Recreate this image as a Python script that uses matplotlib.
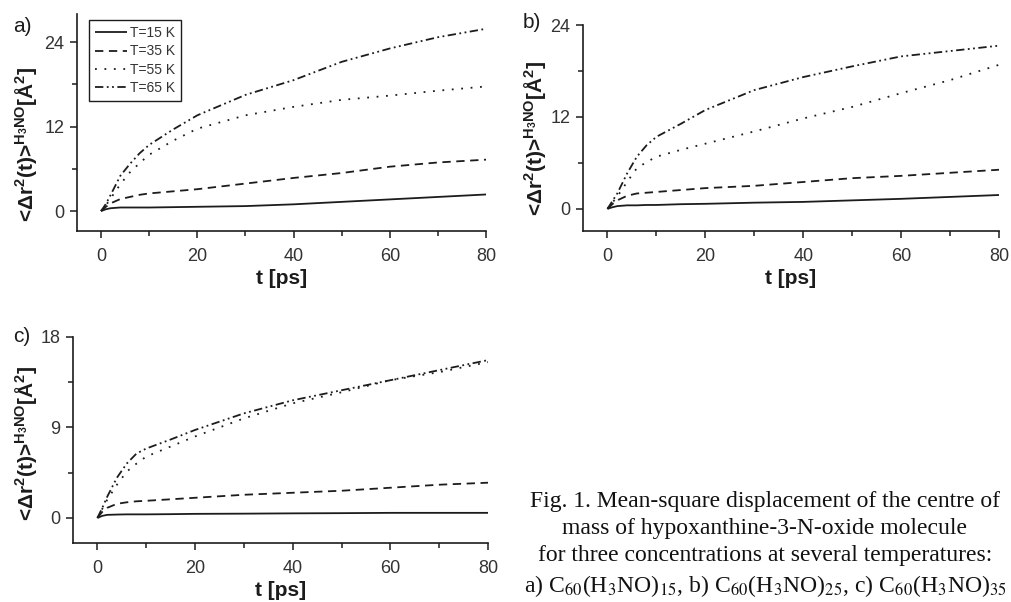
import numpy as np
import matplotlib
matplotlib.use("Agg")
import matplotlib.pyplot as plt

plt.rcParams['font.family'] = ['Liberation Sans', 'DejaVu Sans']
plt.rcParams['mathtext.fontset'] = 'custom'
plt.rcParams['mathtext.rm'] = 'Liberation Sans'
plt.rcParams['mathtext.it'] = 'Liberation Sans:italic'
plt.rcParams['mathtext.bf'] = 'Liberation Sans:bold'
plt.rcParams['lines.scale_dashes'] = False

# time grid [ps]
t = [0, 1, 2, 4, 6, 8, 10, 15, 20, 30, 40, 50, 60, 70, 80]
temps = ['T=15 K', 'T=35 K', 'T=55 K', 'T=65 K']

# a) C60(H3NO)15
a_15 = [0, 0.25, 0.4, 0.5, 0.5, 0.5, 0.5, 0.55, 0.6, 0.7, 0.95, 1.3, 1.65, 2.0, 2.35]
a_35 = [0, 0.6, 1.1, 1.7, 2.0, 2.3, 2.5, 2.8, 3.1, 3.9, 4.7, 5.4, 6.3, 6.9, 7.3]
a_55 = [0, 0.8, 1.8, 3.8, 5.5, 6.8, 8.0, 10.0, 11.7, 13.6, 14.8, 15.8, 16.4, 17.1, 17.7]
a_65 = [0, 1.0, 2.3, 5.0, 6.7, 8.2, 9.4, 11.6, 13.6, 16.5, 18.6, 21.2, 23.1, 24.7, 25.9]

# b) C60(H3NO)25
b_15 = [0, 0.2, 0.35, 0.45, 0.45, 0.5, 0.5, 0.6, 0.65, 0.8, 0.9, 1.1, 1.3, 1.55, 1.8]
b_35 = [0, 0.6, 1.1, 1.7, 2.0, 2.1, 2.2, 2.45, 2.7, 3.0, 3.5, 4.0, 4.3, 4.7, 5.1]
b_55 = [0, 0.8, 1.6, 3.5, 5.3, 6.1, 6.8, 7.7, 8.5, 10.1, 11.8, 13.3, 15.1, 16.8, 18.8]
b_65 = [0, 1.0, 2.0, 4.6, 6.8, 8.3, 9.4, 11.1, 12.9, 15.5, 17.2, 18.6, 19.9, 20.6, 21.3]

# c) C60(H3NO)35
c_15 = [0, 0.2, 0.3, 0.33, 0.35, 0.35, 0.35, 0.37, 0.4, 0.42, 0.45, 0.47, 0.5, 0.5, 0.5]
c_35 = [0, 0.6, 1.0, 1.4, 1.55, 1.65, 1.7, 1.85, 2.0, 2.3, 2.5, 2.7, 3.0, 3.3, 3.5]
c_55 = [0, 0.9, 1.8, 3.3, 4.6, 5.4, 6.1, 7.1, 8.1, 9.9, 11.4, 12.5, 13.7, 14.5, 15.5]
c_65 = [0, 1.0, 2.1, 4.0, 5.4, 6.4, 6.9, 7.8, 8.75, 10.4, 11.7, 12.7, 13.7, 14.7, 15.7]

styles = [(0, ()), (0, (6, 4)), (0, (1.3, 5.5)), (0, (6, 2.5, 1.3, 2.5, 1.3, 2.5))]
ink = '#1c1c1c'

fig = plt.figure(figsize=(10.11, 6.02), dpi=100)

# tag, axes box in pixels (left, top, right, bottom), series, ylim, ticks, minor ticks,
# tag position, y-label position (axes fraction)
panels = [
    ('a)', [77, 14, 486, 231], [a_15, a_35, a_55, a_65], (-2.84, 28), [0, 12, 24], [6, 18],
     (13, 27), (-0.094, 0.40)),
    ('b)', [583, 25, 999, 231], [b_15, b_35, b_55, b_65], (-2.9, 24), [0, 12, 24], [6, 18],
     (523, 22), (-0.083, 0.45)),
    ('c)', [73, 337, 488, 543], [c_15, c_35, c_55, c_65], (-2.5, 18), [0, 9, 18], [4.5, 13.5],
     (13, 336), (-0.081, 0.485)),
]

ylab = r'<Δr$^\mathbf{2}$(t)>$^\mathbf{H_3NO}$[Å$^\mathbf{2}$]'

W, H = 1011, 602
axes = []
for tag, (x0, y0, x1, y1), series, ylim, yt, ymt, (tx, ty), (lx, ly) in panels:
    ax = fig.add_axes([x0 / W, 1 - y1 / H, (x1 - x0) / W, (y1 - y0) / H])
    for s, ls, lab in zip(series, styles, temps):
        ax.plot(t, s, color=ink, lw=1.3, linestyle=ls, label=lab)
    ax.set_xlim(-5, 80)
    ax.set_ylim(*ylim)
    ax.set_xticks([0, 20, 40, 60, 80])
    ax.set_xticks([10, 30, 50, 70], minor=True)
    ax.set_yticks(yt)
    ax.set_yticks(ymt, minor=True)
    for side in ['top', 'right']:
        ax.spines[side].set_visible(False)
    for side in ['left', 'bottom']:
        ax.spines[side].set_linewidth(1.2)
        ax.spines[side].set_color(ink)
    ax.tick_params(which='major', direction='out', length=5, width=1.1,
                   labelsize=13, pad=4, colors=ink, labelcolor='#333333')
    ax.tick_params(axis='x', which='major', pad=7)
    ax.tick_params(which='minor', direction='out', length=3.5, width=1.1, colors=ink)
    ax.set_xlabel('t [ps]', fontsize=15, fontweight='bold', color=ink, labelpad=3)
    ax.set_ylabel(ylab, fontsize=15, fontweight='bold', color=ink)
    ax.yaxis.set_label_coords(lx, ly)
    axes.append(ax)
    fig.text(tx / W, 1 - ty / H, tag, fontsize=15, color=ink, va='center', ha='left')

leg = axes[0].legend(loc='upper left', bbox_to_anchor=(0.029, 0.972), borderaxespad=0,
                     fontsize=10, handlelength=2.3, handletextpad=0.2,
                     labelspacing=0.3, borderpad=0.45, fancybox=False,
                     edgecolor=ink, framealpha=1)
leg.get_frame().set_linewidth(1.0)
for txt in leg.get_texts():
    txt.set_color('#333333')

caption = ('Fig. 1. Mean-square displacement of the centre of\n'
           'mass of hypoxanthine-3-N-oxide molecule\n'
           'for three concentrations at several temperatures:\n'
           r'a) C$_{60}$(H$_3$NO)$_{15}$, b) C$_{60}$(H$_3$NO)$_{25}$, '
           r'c) C$_{60}$(H$_3$NO)$_{35}$')
fig.text(765 / W, 1 - 545 / H, caption, family='Liberation Serif', math_fontfamily='stix',
         fontsize=17, ha='center', va='center', linespacing=1.36, color='#111111')

fig.savefig('out.png', dpi=100)
